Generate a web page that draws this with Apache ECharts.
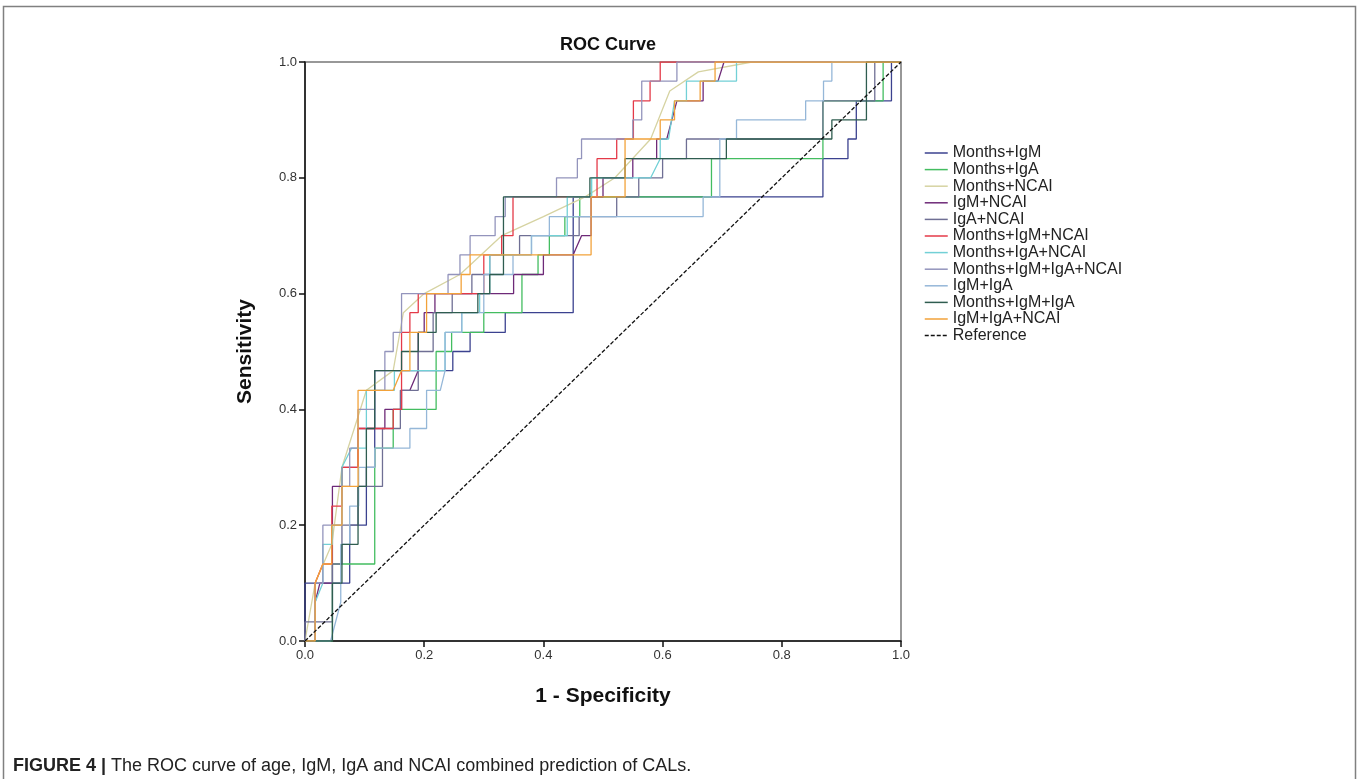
<!DOCTYPE html>
<html>
<head>
<meta charset="utf-8">
<title>ROC Curve</title>
<script src="https://cdn.jsdelivr.net/npm/echarts@6/dist/echarts.min.js"></script>
<style>
  html, body { margin: 0; padding: 0; background: #fff; }
  #chart { width: 1358px; height: 779px; }
</style>
</head>
<body>
<div id="chart"></div>
<script>
// curve points: [1 - specificity, sensitivity]
const monthsIgM = [[0,0],[0,0.1],[0.075,0.1],[0.075,0.2],[0.103,0.2],[0.103,0.3],[0.117,0.3],[0.117,0.467],[0.248,0.467],[0.248,0.5],[0.277,0.5],[0.277,0.533],[0.336,0.533],[0.336,0.567],[0.45,0.567],[0.45,0.767],[0.869,0.767],[0.869,0.833],[0.911,0.833],[0.911,0.867],[0.925,0.867],[0.925,0.933],[0.984,0.933],[0.984,1],[1,1]]
const monthsIgA = [[0,0],[0.046,0],[0.046,0.133],[0.117,0.133],[0.117,0.333],[0.148,0.333],[0.148,0.4],[0.22,0.4],[0.22,0.5],[0.246,0.5],[0.246,0.533],[0.3,0.533],[0.3,0.567],[0.364,0.567],[0.364,0.633],[0.391,0.633],[0.391,0.667],[0.41,0.667],[0.41,0.7],[0.436,0.7],[0.436,0.733],[0.461,0.733],[0.461,0.767],[0.682,0.767],[0.682,0.833],[0.869,0.833],[0.869,0.933],[0.97,0.933],[0.97,1],[1,1]]
const monthsNcai = [[0,0],[0.017,0.1],[0.045,0.167],[0.062,0.3],[0.103,0.433],[0.148,0.467],[0.165,0.567],[0.2,0.6],[0.26,0.633],[0.33,0.7],[0.4,0.733],[0.47,0.767],[0.52,0.8],[0.58,0.867],[0.612,0.95],[0.66,0.983],[0.75,1],[1,1]]
const igmNcai = [[0,0],[0.017,0],[0.017,0.067],[0.025,0.1],[0.046,0.1],[0.046,0.267],[0.062,0.267],[0.062,0.3],[0.089,0.3],[0.089,0.367],[0.134,0.367],[0.134,0.4],[0.162,0.4],[0.162,0.433],[0.176,0.433],[0.19,0.467],[0.19,0.533],[0.2,0.533],[0.2,0.567],[0.218,0.567],[0.218,0.6],[0.35,0.6],[0.35,0.633],[0.4,0.633],[0.4,0.667],[0.45,0.667],[0.464,0.7],[0.48,0.7],[0.48,0.767],[0.5,0.767],[0.5,0.8],[0.55,0.8],[0.55,0.833],[0.59,0.833],[0.59,0.867],[0.607,0.867],[0.624,0.933],[0.668,0.933],[0.668,0.967],[0.693,0.967],[0.703,1],[1,1]]
const igaNcai = [[0,0],[0,0.033],[0.046,0.033],[0.046,0.133],[0.062,0.133],[0.062,0.2],[0.089,0.2],[0.089,0.267],[0.13,0.267],[0.13,0.367],[0.16,0.367],[0.16,0.433],[0.19,0.433],[0.19,0.5],[0.215,0.5],[0.215,0.567],[0.247,0.567],[0.247,0.6],[0.28,0.6],[0.28,0.633],[0.31,0.633],[0.31,0.667],[0.36,0.667],[0.36,0.7],[0.46,0.7],[0.46,0.733],[0.523,0.733],[0.523,0.767],[0.56,0.767],[0.56,0.8],[0.6,0.8],[0.6,0.833],[0.64,0.833],[0.64,0.867],[0.869,0.867],[0.869,0.933],[0.956,0.933],[0.956,1],[1,1]]
const monthsIgmNcai = [[0,0],[0.017,0],[0.017,0.1],[0.03,0.133],[0.045,0.133],[0.045,0.233],[0.062,0.233],[0.062,0.3],[0.089,0.3],[0.089,0.367],[0.148,0.367],[0.148,0.4],[0.162,0.4],[0.162,0.533],[0.176,0.533],[0.176,0.567],[0.19,0.567],[0.19,0.6],[0.3,0.6],[0.3,0.667],[0.33,0.667],[0.33,0.7],[0.349,0.7],[0.349,0.767],[0.49,0.767],[0.49,0.833],[0.523,0.833],[0.523,0.867],[0.551,0.867],[0.551,0.933],[0.579,0.933],[0.579,0.967],[0.596,0.967],[0.596,1],[1,1]]
const monthsIgaNcai = [[0,0],[0.017,0],[0.017,0.067],[0.03,0.1],[0.03,0.167],[0.046,0.167],[0.046,0.2],[0.062,0.2],[0.062,0.3],[0.078,0.333],[0.103,0.333],[0.103,0.433],[0.15,0.433],[0.15,0.467],[0.235,0.467],[0.235,0.533],[0.263,0.533],[0.263,0.567],[0.293,0.567],[0.293,0.6],[0.31,0.6],[0.31,0.667],[0.38,0.667],[0.38,0.7],[0.44,0.7],[0.44,0.767],[0.481,0.767],[0.481,0.8],[0.58,0.8],[0.596,0.833],[0.596,0.867],[0.61,0.867],[0.62,0.933],[0.64,0.933],[0.64,0.967],[0.724,0.967],[0.724,1],[1,1]]
const monthsIgmIgaNcai = [[0,0],[0.017,0],[0.017,0.1],[0.03,0.1],[0.03,0.2],[0.062,0.2],[0.062,0.267],[0.075,0.267],[0.075,0.333],[0.089,0.333],[0.089,0.4],[0.117,0.4],[0.117,0.433],[0.134,0.433],[0.134,0.5],[0.148,0.5],[0.148,0.533],[0.162,0.533],[0.162,0.6],[0.24,0.6],[0.24,0.633],[0.26,0.633],[0.26,0.667],[0.277,0.667],[0.277,0.7],[0.319,0.7],[0.319,0.733],[0.336,0.733],[0.336,0.767],[0.422,0.767],[0.422,0.8],[0.457,0.8],[0.457,0.833],[0.464,0.833],[0.464,0.867],[0.55,0.867],[0.55,0.9],[0.565,0.9],[0.565,0.967],[0.624,0.967],[0.624,1],[1,1]]
const igmIga = [[0,0],[0.043,0],[0.06,0.067],[0.06,0.167],[0.075,0.167],[0.075,0.233],[0.09,0.233],[0.09,0.3],[0.117,0.3],[0.117,0.333],[0.176,0.333],[0.176,0.367],[0.204,0.367],[0.204,0.433],[0.227,0.433],[0.235,0.467],[0.235,0.533],[0.263,0.533],[0.263,0.567],[0.3,0.567],[0.3,0.633],[0.349,0.633],[0.349,0.667],[0.38,0.667],[0.38,0.7],[0.41,0.7],[0.41,0.733],[0.668,0.733],[0.668,0.767],[0.696,0.767],[0.696,0.867],[0.724,0.867],[0.724,0.9],[0.84,0.9],[0.84,0.933],[0.87,0.933],[0.87,0.967],[0.884,0.967],[0.884,1],[1,1]]
const monthsIgmIga = [[0,0],[0.046,0],[0.046,0.1],[0.062,0.1],[0.062,0.167],[0.089,0.167],[0.089,0.267],[0.103,0.267],[0.103,0.367],[0.117,0.367],[0.117,0.467],[0.162,0.467],[0.162,0.5],[0.19,0.5],[0.19,0.533],[0.22,0.533],[0.22,0.567],[0.29,0.567],[0.29,0.6],[0.31,0.6],[0.31,0.633],[0.333,0.633],[0.333,0.767],[0.478,0.767],[0.478,0.8],[0.537,0.8],[0.537,0.833],[0.707,0.833],[0.707,0.867],[0.884,0.867],[0.884,0.9],[0.942,0.9],[0.942,1],[1,1]]
const igmIgaNcai = [[0,0],[0.017,0],[0.017,0.1],[0.03,0.133],[0.045,0.133],[0.045,0.2],[0.062,0.2],[0.062,0.267],[0.089,0.267],[0.089,0.433],[0.148,0.433],[0.162,0.467],[0.176,0.467],[0.176,0.533],[0.204,0.533],[0.204,0.6],[0.262,0.6],[0.262,0.633],[0.277,0.633],[0.277,0.667],[0.48,0.667],[0.48,0.767],[0.537,0.767],[0.537,0.867],[0.596,0.867],[0.596,0.9],[0.62,0.9],[0.62,0.933],[0.663,0.933],[0.663,0.967],[0.688,0.967],[0.688,1],[1,1]]
const referenceLine = [[0,0],[1,1]]

const curveNames = ['Months+IgM', 'Months+IgA', 'Months+NCAI', 'IgM+NCAI', 'IgA+NCAI', 'Months+IgM+NCAI',
  'Months+IgA+NCAI', 'Months+IgM+IgA+NCAI', 'IgM+IgA', 'Months+IgM+IgA', 'IgM+IgA+NCAI']
const curveData = [monthsIgM, monthsIgA, monthsNcai, igmNcai, igaNcai, monthsIgmNcai,
  monthsIgaNcai, monthsIgmIgaNcai, igmIga, monthsIgmIga, igmIgaNcai]
const curveColors = ['#3b428f', '#43bd60', '#d6d3a2', '#6e2a78', '#6f6f94', '#e43a48',
  '#72d0d6', '#9394bc', '#95b7d8', '#2f5d50', '#f2a23a']

const font = '"Liberation Sans", Arial, sans-serif'

const chart = echarts.init(document.getElementById('chart'))

const series = curveData.map((d, i) => ({
  name: curveNames[i],
  type: 'line',
  data: d,
  symbol: 'none',
  lineStyle: { color: curveColors[i], width: 1.3 },
  itemStyle: { color: curveColors[i] },
  animation: false
}))
series.push({
  name: 'Reference',
  type: 'line',
  data: referenceLine,
  symbol: 'none',
  lineStyle: { color: '#111', width: 1.3, type: [4, 2] },
  itemStyle: { color: '#111' },
  animation: false
})

const option = {
  backgroundColor: '#fff',
  animation: false,
  title: {
    text: 'ROC Curve',
    left: 603,
    top: 31,
    textAlign: 'center',
    textStyle: { fontFamily: font, fontSize: 18, fontWeight: 'bold', color: '#111' }
  },
  grid: {
    left: 305, top: 62, width: 596, height: 579,
    show: true, borderColor: '#777', borderWidth: 1.5, backgroundColor: 'transparent'
  },
  legend: {
    orient: 'vertical',
    left: 919,
    top: 140,
    itemWidth: 23,
    itemHeight: 16,
    itemGap: 0.6,
    itemStyle: { opacity: 0 },
    lineStyle: { width: 1.5 },
    data: curveNames.concat(['Reference']),
    textStyle: { fontFamily: font, fontSize: 16, color: '#222', lineHeight: 16 }
  },
  xAxis: {
    type: 'value', min: 0, max: 1, interval: 0.2,
    name: '1 - Specificity', nameLocation: 'middle', nameGap: 45,
    nameTextStyle: { fontFamily: font, fontSize: 21, fontWeight: 'bold', color: '#111' },
    axisLine: { lineStyle: { color: '#111', width: 1.5 } },
    axisTick: { show: true, length: 6, lineStyle: { color: '#111', width: 1.5 } },
    axisLabel: { margin: 8, fontFamily: font, fontSize: 13, color: '#333', formatter: v => v.toFixed(1) },
    splitLine: { show: false }
  },
  yAxis: {
    type: 'value', min: 0, max: 1, interval: 0.2,
    name: 'Sensitivity', nameLocation: 'middle', nameGap: 49,
    nameTextStyle: { fontFamily: font, fontSize: 21, fontWeight: 'bold', color: '#111' },
    axisLine: { lineStyle: { color: '#111', width: 1.5 } },
    axisTick: { show: true, length: 6, lineStyle: { color: '#111', width: 1.5 } },
    axisLabel: { margin: 8, fontFamily: font, fontSize: 13, color: '#333', formatter: v => v.toFixed(1) },
    splitLine: { show: false }
  },
  graphic: [
    {
      type: 'rect',
      shape: { x: 3.5, y: 6.5, width: 1352, height: 800 },
      style: { fill: 'none', stroke: '#808080', lineWidth: 1.5 },
      silent: true
    },
    {
      type: 'text',
      left: 13,
      top: 757,
      style: {
        text: '{b|FIGURE 4 |} The ROC curve of age, IgM, IgA and NCAI combined prediction of CALs.',
        fontFamily: font,
        fontSize: 18,
        fill: '#222',
        rich: { b: { fontFamily: font, fontSize: 18, fontWeight: 'bold', fill: '#222' } }
      }
    }
  ],
  series: series
}

chart.setOption(option)
</script>
</body>
</html>
